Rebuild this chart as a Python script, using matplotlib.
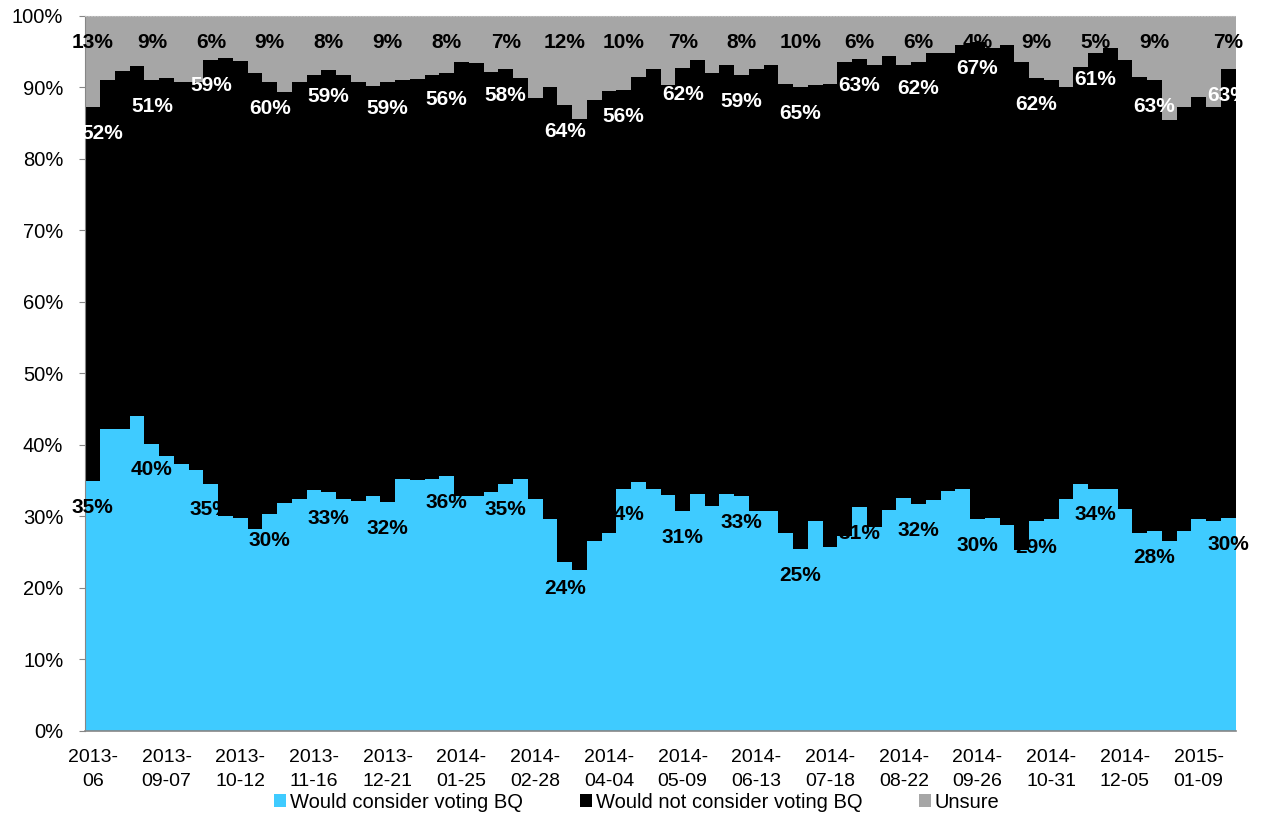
import numpy as np
import matplotlib
matplotlib.use('Agg')
import matplotlib.pyplot as plt

plt.rcParams['font.family'] = ['Liberation Sans', 'DejaVu Sans']

# Weekly poll shares (%), 78 weeks
consider = [35.0, 42.3, 42.2, 44.1, 40.2, 38.5, 37.3, 36.5, 34.6, 30.1,
            29.8, 28.3, 30.3, 31.9, 32.5, 33.7, 33.4, 32.4, 32.2, 32.9,
            32.0, 35.2, 35.1, 35.3, 35.6, 32.8, 32.8, 33.4, 34.6, 35.3,
            32.5, 29.6, 23.6, 22.5, 26.6, 27.7, 33.9, 34.8, 33.8, 33.0,
            30.7, 33.2, 31.4, 33.1, 32.8, 30.8, 30.8, 27.7, 25.4, 29.4,
            25.8, 27.3, 31.3, 28.5, 30.9, 32.6, 31.7, 32.3, 33.6, 33.9,
            29.7, 29.8, 28.8, 25.3, 29.4, 29.7, 32.5, 34.6, 33.9, 33.9,
            31.1, 27.7, 28.0, 26.6, 27.9, 29.6, 29.3, 29.8]
not_consider = [52.3, 48.7, 50.1, 48.9, 50.9, 52.8, 53.4, 54.2, 59.3, 64.0,
                63.9, 63.7, 60.4, 57.5, 58.2, 58.0, 59.0, 59.3, 58.5, 57.3,
                58.8, 55.8, 56.1, 56.5, 56.4, 60.7, 60.6, 58.7, 58.0, 56.0,
                56.1, 60.4, 64.0, 63.1, 61.6, 61.8, 55.8, 56.6, 58.8, 57.4,
                62.0, 60.7, 60.6, 60.1, 58.9, 61.8, 62.4, 62.8, 64.7, 60.9,
                64.7, 66.3, 62.7, 64.7, 63.5, 60.6, 61.9, 62.5, 61.2, 62.0,
                66.7, 65.7, 67.2, 68.2, 61.9, 61.3, 57.5, 58.2, 60.9, 61.6,
                62.7, 63.8, 63.0, 58.9, 59.4, 59.1, 58.0, 62.8]
unsure = [12.7, 9.0, 7.7, 7.0, 8.9, 8.7, 9.3, 9.3, 6.1, 5.9,
          6.3, 8.0, 9.3, 10.6, 9.3, 8.3, 7.6, 8.3, 9.3, 9.8,
          9.2, 9.0, 8.8, 8.2, 8.0, 6.5, 6.6, 7.9, 7.4, 8.7,
          11.4, 10.0, 12.4, 14.4, 11.8, 10.5, 10.3, 8.6, 7.4, 9.6,
          7.3, 6.1, 8.0, 6.8, 8.3, 7.4, 6.8, 9.5, 9.9, 9.7,
          9.5, 6.4, 6.0, 6.8, 5.6, 6.8, 6.4, 5.2, 5.2, 4.1,
          3.6, 4.5, 4.0, 6.5, 8.7, 9.0, 10.0, 7.2, 5.2, 4.5,
          6.2, 8.5, 9.0, 14.5, 12.7, 11.3, 12.7, 7.4]

tick_labels = ['2013-\n06', '2013-\n09-07', '2013-\n10-12', '2013-\n11-16',
               '2013-\n12-21', '2014-\n01-25', '2014-\n02-28', '2014-\n04-04',
               '2014-\n05-09', '2014-\n06-13', '2014-\n07-18', '2014-\n08-22',
               '2014-\n09-26', '2014-\n10-31', '2014-\n12-05', '2015-\n01-09']
labelled = list(range(0, 73, 4)) + [77]

blue = '#3FCBFF'
black = '#000000'
grey = '#A6A6A6'

consider = np.array(consider)
not_consider = np.array(not_consider)
unsure = np.array(unsure)
x = np.arange(len(consider))

fig = plt.figure(figsize=(12.61, 8.16), dpi=100, facecolor='white')
ax = fig.add_axes([0.0678, 0.1042, 0.9120, 0.8762])

ax.bar(x, consider, 1.0, color=blue, linewidth=0, antialiased=False,
       label='Would consider voting BQ')
ax.bar(x, not_consider, 1.0, bottom=consider, color=black, linewidth=0,
       antialiased=False, label='Would not consider voting BQ')
ax.bar(x, unsure, 1.0, bottom=consider + not_consider, color=grey,
       linewidth=0, antialiased=False, label='Unsure')

# data labels: "inside end" of each segment
tops = [consider, consider + not_consider, consider + not_consider + unsure]
vals = [consider, not_consider, unsure]
txt_colors = ['black', 'white', 'black']
for k, (top, val, c) in enumerate(zip(tops, vals, txt_colors)):
    for i in labelled:
        dx = 7 if (k == 1 and i == 0) else 0  # keep first white label inside
        ax.annotate('{}%'.format(int(round(val[i]))), xy=(x[i], top[i]),
                    xytext=(dx, -19), textcoords='offset points',
                    ha='center', va='center', color=c,
                    fontsize=15, fontweight='bold')

ax.set_xlim(-0.5, len(x) - 0.5)
ax.set_ylim(0, 100)
ax.set_yticks(np.arange(0, 101, 10))
ax.set_yticklabels(['{}%'.format(v) for v in range(0, 101, 10)], fontsize=14.5)
ax.set_xticks(x[::5])
ax.set_xticklabels(tick_labels, fontsize=14, linespacing=1.55)
ax.tick_params(axis='x', length=0, pad=13)
ax.tick_params(axis='y', length=4, color='#868686', pad=12)

ax.spines['right'].set_visible(False)
ax.spines['top'].set_linestyle(':')
ax.spines['top'].set_color('#bfbfbf')
ax.spines['left'].set_color('#868686')
ax.spines['bottom'].set_color('#868686')
ax.spines['bottom'].set_linewidth(1.2)

fig.legend(loc='lower center', bbox_to_anchor=(0.505, -0.017), ncol=3,
           frameon=False, fontsize=14.5, handlelength=0.6, handleheight=0.6,
           handletextpad=0.2, columnspacing=2.8)

fig.savefig('out.png', dpi=100, facecolor='white')
